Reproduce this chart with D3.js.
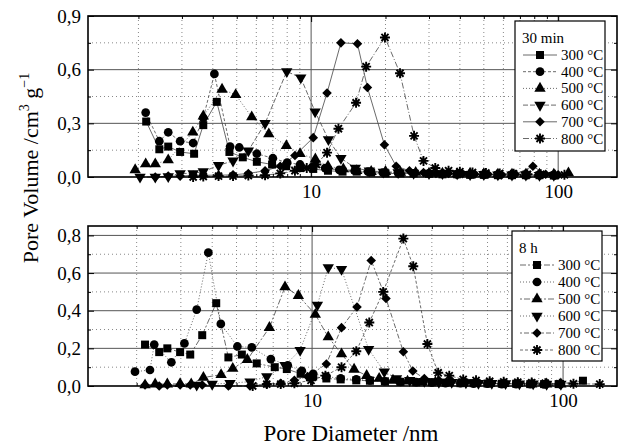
<!DOCTYPE html>
<html>
<head>
<meta charset="utf-8">
<title>Pore size distribution</title>
<script src="https://cdn.jsdelivr.net/npm/d3@7"></script>
<style>
  body { margin: 0; background: #fff; }
  svg { font-family: "Liberation Serif", "Times New Roman", serif; }
  .grid-major { stroke: #555; stroke-width: 1; }
  .grid-minor { stroke: #888; stroke-width: 1; stroke-dasharray: 1,3; }
  .frame { fill: none; stroke: #000; stroke-width: 1.6; }
  .series { fill: none; stroke: #444; stroke-width: 0.8; }
</style>
</head>
<body>
<svg id="chart" width="618" height="445"></svg>
<script>
  // legend labels and axis ticks
  const tempLabels = ['300 °C', '400 °C', '500 °C', '600 °C', '700 °C', '800 °C'];
  const xTickLabels = [10, 100];
  const xMinorTicks = [2, 3, 4, 5, 6, 7, 8, 9, 20, 30, 40, 50, 60, 70, 80, 90];
  const topYTicks = [0, 0.3, 0.6, 0.9];
  const topYMinor = [0.15, 0.45, 0.75];
  const botYTicks = [0, 0.2, 0.4, 0.6, 0.8];
  const botYMinor = [0.1, 0.3, 0.5, 0.7];

  // 30 min, [diameter nm, pore volume]
  const top300 = [[2.15,0.31],[2.43,0.155],[2.64,0.17],[2.95,0.14],[3.36,0.13],[3.66,0.29],[4.15,0.42],[4.67,0.14],[5.29,0.11],[6.03,0.085],[6.95,0.07],[7.92,0.06],[9.02,0.05],[10.2,0.045],[11.7,0.035],[13.4,0.03],[15.3,0.03],[17.5,0.025],[20,0.02],[23,0.02],[26,0.02],[30,0.018],[34,0.015],[39,0.015],[44,0.012],[50,0.012],[57,0.01],[65,0.01],[74,0.01],[84,0.01],[96,0.008]];
  const top400 = [[2.14,0.36],[2.43,0.2],[2.64,0.25],[2.95,0.2],[3.33,0.19],[3.66,0.33],[4.06,0.576],[4.7,0.17],[5.12,0.165],[6.03,0.13],[7.0,0.105],[8.0,0.08],[9.02,0.07],[10.2,0.06],[11.4,0.05],[13,0.04],[15,0.035],[17,0.03],[19.5,0.025],[22.5,0.022],[26,0.02],[30,0.02],[34,0.018],[39,0.015],[44,0.015],[50,0.012],[57,0.012],[65,0.01],[74,0.01],[84,0.01],[96,0.01]];
  const top500 = [[1.94,0.04],[2.14,0.073],[2.34,0.073],[2.64,0.095],[3.32,0.25],[3.66,0.34],[4.36,0.49],[4.95,0.46],[5.75,0.335],[6.74,0.24],[7.94,0.175],[9.02,0.13],[10.4,0.1],[11.7,0.06],[13.5,0.045],[15.3,0.035],[17.5,0.03],[20,0.03],[23,0.025],[26.5,0.025],[30,0.02],[34,0.02],[39,0.018],[44,0.02],[50,0.018],[57,0.015],[65,0.015],[74,0.015],[84,0.015],[96,0.015],[110,0.022]];
  const top600 = [[2.03,0.0],[2.34,0.0],[2.64,0.003],[2.95,0.02],[3.33,0.02],[3.66,0.03],[4.22,0.065],[4.83,0.09],[5.57,0.147],[6.51,0.3],[7.97,0.59],[9.08,0.555],[10.38,0.365],[11.75,0.21],[13.2,0.105],[15.1,0.05],[17.2,0.035],[19.6,0.028],[22.5,0.025],[26,0.022],[30,0.02],[34,0.02],[39,0.018],[44,0.015],[50,0.015],[57,0.013],[65,0.012],[74,0.012],[84,0.01],[96,0.01]];
  const top700 = [[2.34,0.0],[2.64,0.005],[2.95,0.005],[3.33,0.01],[3.66,0.01],[4.22,0.01],[4.83,0.012],[5.57,0.02],[6.51,0.035],[7.5,0.06],[8.6,0.12],[10.2,0.22],[11.6,0.47],[13.2,0.75],[15.4,0.745],[16.9,0.5],[19.8,0.18],[22.1,0.06],[25,0.035],[28.5,0.025],[32,0.02],[36,0.02],[41,0.018],[46,0.015],[52,0.015],[59,0.012],[67,0.015],[79,0.06],[89,0.015],[100,0.012]];
  const top800 = [[3.33,0.0],[3.66,0.003],[4.22,0.005],[4.83,0.005],[5.57,0.008],[6.51,0.01],[7.5,0.02],[8.6,0.035],[9.6,0.05],[10.5,0.07],[11.6,0.136],[12.9,0.27],[15.2,0.415],[16.7,0.617],[19.9,0.78],[22.9,0.58],[26.1,0.23],[28.5,0.09],[31.8,0.05],[36,0.035],[40,0.03],[45,0.025],[51,0.022],[58,0.02],[66,0.018],[75,0.015],[85,0.015],[97,0.012],[106,0.012]];

  // 8 h
  const bot300 = [[2.16,0.22],[2.46,0.18],[2.65,0.2],[2.98,0.18],[3.27,0.167],[3.65,0.27],[4.15,0.44],[4.64,0.152],[5.25,0.167],[6.02,0.12],[7.1,0.1],[7.93,0.09],[9.0,0.065],[10.1,0.05],[11.4,0.04],[13,0.035],[15,0.03],[17,0.028],[19.5,0.025],[22.5,0.022],[26,0.02],[30,0.02],[34,0.018],[39,0.015],[44,0.015],[50,0.013],[57,0.012],[65,0.012],[74,0.01],[84,0.01],[96,0.01],[120,0.028]];
  const bot400 = [[1.97,0.076],[2.26,0.085],[2.35,0.22],[2.75,0.126],[3.1,0.226],[3.47,0.406],[3.86,0.709],[4.33,0.33],[5.04,0.21],[5.75,0.205],[6.85,0.143],[8.0,0.11],[9.1,0.081],[10.1,0.065],[11.4,0.05],[13,0.04],[15,0.035],[17,0.03],[19.5,0.025],[22.5,0.022],[26,0.02],[30,0.018],[34,0.015],[39,0.015],[44,0.013],[50,0.012],[57,0.01],[65,0.01],[74,0.01],[84,0.008]];
  const bot500 = [[2.16,0.005],[2.37,0.01],[2.65,0.01],[2.98,0.012],[3.3,0.01],[3.69,0.045],[4.34,0.06],[4.83,0.093],[5.52,0.14],[6.76,0.31],[7.8,0.526],[8.82,0.48],[10.3,0.38],[11.6,0.26],[13.1,0.17],[14.7,0.088],[16.5,0.055],[18.5,0.04],[21,0.03],[24,0.025],[27.5,0.02],[31,0.02],[35,0.018],[40,0.015],[45,0.015],[51,0.013],[58,0.012],[66,0.012],[75,0.01],[86,0.01],[98,0.01]];
  const bot600 = [[3.47,0.005],[4.0,0.01],[4.71,0.015],[5.66,0.023],[6.6,0.05],[7.8,0.11],[8.96,0.19],[10.5,0.43],[11.6,0.63],[13.1,0.62],[16.8,0.195],[19.4,0.076],[21.7,0.04],[24.5,0.03],[28,0.025],[32,0.02],[36,0.02],[41,0.018],[46,0.015],[52,0.015],[59,0.013],[67,0.012],[76,0.012],[86,0.01],[98,0.01]];
  const bot700 = [[2.16,0.005],[2.46,0.0],[2.65,0.005],[2.98,0.005],[3.27,0.005],[3.65,0.005],[4.64,0.0],[5.66,0.0],[6.6,0.01],[7.5,0.015],[8.5,0.03],[9.6,0.05],[11.4,0.117],[13.1,0.31],[15.1,0.42],[17.2,0.667],[19.7,0.465],[23.1,0.182],[25.2,0.08],[28,0.04],[32,0.03],[36,0.025],[41,0.02],[46,0.018],[52,0.015],[59,0.015],[67,0.012],[76,0.012],[86,0.01],[98,0.01]];
  const bot800 = [[5.8,0.0],[6.6,0.01],[7.5,0.01],[8.5,0.015],[9.9,0.03],[11.3,0.055],[13.1,0.1],[15.0,0.185],[16.9,0.337],[19.2,0.5],[23.1,0.783],[25.3,0.636],[28.8,0.223],[31.8,0.07],[35.2,0.055],[40,0.035],[45,0.03],[51,0.025],[58,0.022],[66,0.02],[75,0.018],[85,0.015],[97,0.012],[110,0.012],[140,0.01]];

  const svg = d3.select('#chart');
  const fmt = d3.formatLocale({ decimal: ',', thousands: '.', grouping: [3], currency: ['', ''] }).format('.1f');

  // custom asterisk marker
  const symbolStar = {
    draw(ctx, size) {
      const r = Math.sqrt(size) / 2;
      for (let i = 0; i < 4; i++) {
        const a = i * Math.PI / 4;
        ctx.moveTo(-r * Math.cos(a), -r * Math.sin(a));
        ctx.lineTo(r * Math.cos(a), r * Math.sin(a));
      }
    }
  };

  const markers = [
    { type: d3.symbolSquare, size: 64, rot: 0 },
    { type: d3.symbolCircle, size: 60, rot: 0 },
    { type: d3.symbolTriangle, size: 56, rot: 0 },
    { type: d3.symbolTriangle, size: 56, rot: 180 },
    { type: d3.symbolSquare, size: 46, rot: 45 },
    { type: symbolStar, size: 100, rot: 0, stroke: true }
  ];

  function drawMarker(g, m, x, y) {
    const p = g.append('path')
      .attr('d', d3.symbol().type(m.type).size(m.size)())
      .attr('transform', `translate(${x},${y}) rotate(${m.rot})`);
    if (m.stroke) {
      p.attr('fill', 'none').attr('stroke', '#000').attr('stroke-width', 1.9);
    } else {
      p.attr('fill', '#000');
    }
  }

  function drawPanel(cfg) {
    const x = d3.scaleLog().domain(cfg.xDomain).range([88, 617]);
    const y = d3.scaleLinear().domain(cfg.yDomain).range([cfg.bottom, cfg.top]);
    const g = svg.append('g');

    // grid
    g.selectAll('.vminor').data(xMinorTicks).enter().append('line')
      .attr('class', 'grid-minor')
      .attr('x1', d => x(d)).attr('x2', d => x(d))
      .attr('y1', cfg.top).attr('y2', cfg.bottom);
    g.selectAll('.hminor').data(cfg.yMinor).enter().append('line')
      .attr('class', 'grid-minor')
      .attr('x1', 88).attr('x2', 617)
      .attr('y1', d => y(d)).attr('y2', d => y(d));
    g.selectAll('.vmajor').data(xTickLabels).enter().append('line')
      .attr('class', 'grid-major')
      .attr('x1', d => x(d)).attr('x2', d => x(d))
      .attr('y1', cfg.top).attr('y2', cfg.bottom);
    g.selectAll('.hmajor').data(cfg.yTicks.slice(1)).enter().append('line')
      .attr('class', 'grid-major')
      .attr('x1', 88).attr('x2', 617)
      .attr('y1', d => y(d)).attr('y2', d => y(d));

    // series
    const line = d3.line().x(d => x(d[0])).y(d => y(d[1]));
    cfg.series.forEach((s, i) => {
      g.append('path').datum(s)
        .attr('class', 'series')
        .attr('stroke-dasharray', cfg.dashes[i])
        .attr('d', line);
    });
    cfg.series.forEach((s, i) => {
      s.forEach(d => drawMarker(g, markers[i], x(d[0]), y(d[1])));
    });

    // axes with inward ticks
    const yMajor = d3.axisLeft(y).tickValues(cfg.yTicks).tickSize(-6).tickPadding(7).tickFormat(fmt);
    const yMin = d3.axisLeft(y).tickValues(cfg.yMinor).tickSize(-3).tickFormat('');
    const ax = g.append('g').attr('transform', 'translate(88,0)').call(yMajor);
    ax.attr('font-family', null).attr('font-size', null);
    ax.selectAll('text').style('font-size', '19px');
    g.append('g').attr('transform', 'translate(88,0)').call(yMin);
    g.append('g').attr('transform', 'translate(617,0)').call(d3.axisRight(y).tickValues(cfg.yTicks).tickSize(-6).tickFormat(''));
    g.append('g').attr('transform', 'translate(617,0)').call(d3.axisRight(y).tickValues(cfg.yMinor).tickSize(-3).tickFormat(''));

    const xb = g.append('g').attr('transform', `translate(0,${cfg.bottom})`)
      .call(d3.axisBottom(x).tickValues(xTickLabels).tickSize(-6).tickPadding(8).tickFormat(d3.format('d')));
    xb.attr('font-family', null).attr('font-size', null);
    xb.selectAll('text').style('font-size', '19px');
    g.append('g').attr('transform', `translate(0,${cfg.bottom})`)
      .call(d3.axisBottom(x).tickValues(xMinorTicks).tickSize(-3).tickFormat(''));
    g.append('g').attr('transform', `translate(0,${cfg.top})`)
      .call(d3.axisTop(x).tickValues(xTickLabels).tickSize(-6).tickFormat(''));
    g.append('g').attr('transform', `translate(0,${cfg.top})`)
      .call(d3.axisTop(x).tickValues(xMinorTicks).tickSize(-3).tickFormat(''));
    g.selectAll('.domain').remove();
    g.selectAll('.tick line').attr('stroke', '#000').attr('stroke-width', 1);
    g.selectAll('.tick text').attr('fill', '#000');

    g.append('rect').attr('class', 'frame')
      .attr('x', 88).attr('y', cfg.top)
      .attr('width', 617 - 88).attr('height', cfg.bottom - cfg.top);

    // legend
    const L = cfg.legend;
    const lg = g.append('g');
    lg.append('rect').attr('x', L.x).attr('y', L.y).attr('width', L.w).attr('height', L.h)
      .attr('fill', '#fff').attr('stroke', '#000').attr('stroke-width', 1.2);
    lg.append('text').attr('x', L.x + 7).attr('y', L.titleY)
      .style('font-size', '15px').text(L.title);
    tempLabels.forEach((t, i) => {
      const cy = L.firstY + i * L.step;
      lg.append('line').attr('class', 'series')
        .attr('stroke-dasharray', cfg.dashes[i])
        .attr('x1', L.mx - 17).attr('x2', L.mx + 17)
        .attr('y1', cy).attr('y2', cy);
      drawMarker(lg, markers[i], L.mx, cy);
      lg.append('text').attr('x', L.mx + 21).attr('y', cy + 5)
        .style('font-size', '15px').text(t);
    });
  }

  drawPanel({
    top: 16, bottom: 177,
    xDomain: [1.25, 173], yDomain: [0, 0.9],
    yTicks: topYTicks, yMinor: topYMinor,
    series: [top300, top400, top500, top600, top700, top800],
    dashes: ['none', '3,2', '1,2', '5,2', 'none', '6,2,1,2'],
    legend: { x: 515, y: 21, w: 90, h: 130, title: '30 min', titleY: 43, firstY: 55, step: 16.7, mx: 540 }
  });

  drawPanel({
    top: 226, bottom: 386,
    xDomain: [1.28, 164], yDomain: [0, 0.85],
    yTicks: botYTicks, yMinor: botYMinor,
    series: [bot300, bot400, bot500, bot600, bot700, bot800],
    dashes: ['6,2,2,2', '1,2', '2,2,6,2', '1,2', '2,2,5,2', '3,2'],
    legend: { x: 512, y: 231, w: 90, h: 130, title: '8 h', titleY: 253, firstY: 265, step: 17, mx: 537 }
  });

  // axis titles
  svg.append('text')
    .attr('x', 351).attr('y', 441)
    .attr('text-anchor', 'middle')
    .style('font-size', '23px')
    .text('Pore Diameter /nm');

  const yt = svg.append('text')
    .attr('transform', 'translate(38,168) rotate(-90)')
    .attr('text-anchor', 'middle')
    .style('font-size', '22px');
  yt.append('tspan').text('Pore Volume /cm');
  yt.append('tspan').attr('dy', -9).style('font-size', '14px').text('3');
  yt.append('tspan').attr('dy', 9).text(' g');
  yt.append('tspan').attr('dy', -9).style('font-size', '14px').text('−1');
</script>
</body>
</html>
